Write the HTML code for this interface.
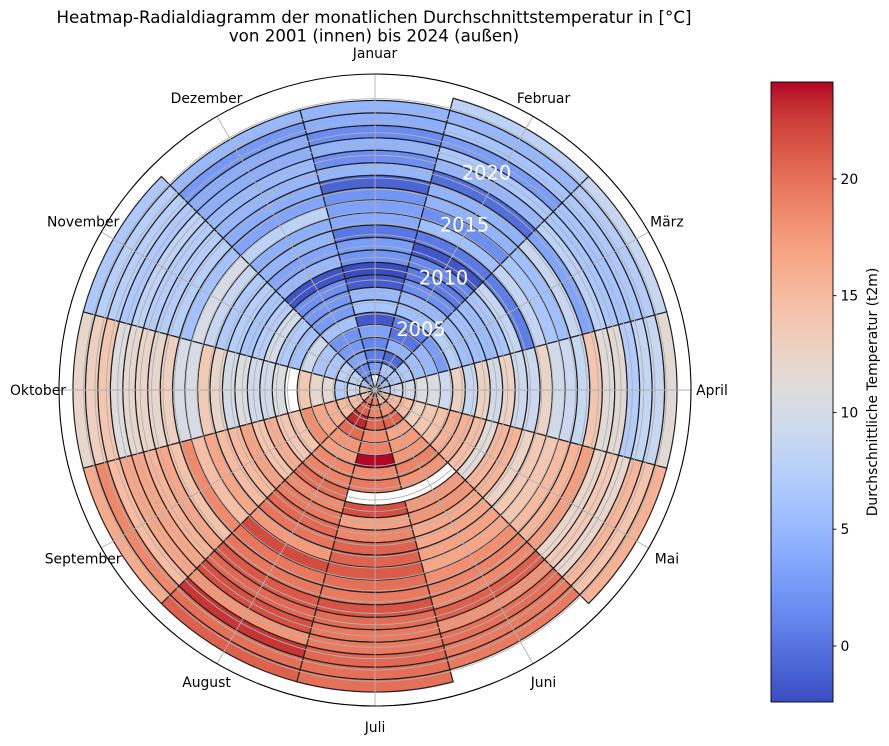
<!DOCTYPE html>
<html><head><meta charset="utf-8">
<style>
html,body{margin:0;padding:0;background:#fff;}
svg{display:block;font-family:"DejaVu Sans","Liberation Sans",sans-serif;}
</style></head><body>
<svg id="s" width="889" height="746" viewBox="0 0 889 746" xmlns="http://www.w3.org/2000/svg">
<defs>
<linearGradient id="cb" x1="0" y1="1" x2="0" y2="0">
<stop offset="0" stop-color="rgb(59,76,192)"/>
<stop offset="0.03125" stop-color="rgb(68,90,204)"/>
<stop offset="0.0625" stop-color="rgb(77,104,215)"/>
<stop offset="0.09375" stop-color="rgb(87,117,225)"/>
<stop offset="0.125" stop-color="rgb(98,130,234)"/>
<stop offset="0.15625" stop-color="rgb(108,142,241)"/>
<stop offset="0.1875" stop-color="rgb(119,154,247)"/>
<stop offset="0.21875" stop-color="rgb(130,165,251)"/>
<stop offset="0.25" stop-color="rgb(141,176,254)"/>
<stop offset="0.28125" stop-color="rgb(152,185,255)"/>
<stop offset="0.3125" stop-color="rgb(163,194,255)"/>
<stop offset="0.34375" stop-color="rgb(174,201,253)"/>
<stop offset="0.375" stop-color="rgb(184,208,249)"/>
<stop offset="0.40625" stop-color="rgb(194,213,244)"/>
<stop offset="0.4375" stop-color="rgb(204,217,238)"/>
<stop offset="0.46875" stop-color="rgb(213,219,230)"/>
<stop offset="0.5" stop-color="rgb(221,221,221)"/>
<stop offset="0.53125" stop-color="rgb(229,216,209)"/>
<stop offset="0.5625" stop-color="rgb(236,211,197)"/>
<stop offset="0.59375" stop-color="rgb(241,204,185)"/>
<stop offset="0.625" stop-color="rgb(245,196,173)"/>
<stop offset="0.65625" stop-color="rgb(247,187,160)"/>
<stop offset="0.6875" stop-color="rgb(247,177,148)"/>
<stop offset="0.71875" stop-color="rgb(247,166,135)"/>
<stop offset="0.75" stop-color="rgb(244,154,123)"/>
<stop offset="0.78125" stop-color="rgb(241,141,111)"/>
<stop offset="0.8125" stop-color="rgb(236,127,99)"/>
<stop offset="0.84375" stop-color="rgb(229,112,88)"/>
<stop offset="0.875" stop-color="rgb(222,96,77)"/>
<stop offset="0.90625" stop-color="rgb(213,80,66)"/>
<stop offset="0.9375" stop-color="rgb(203,62,56)"/>
<stop offset="0.96875" stop-color="rgb(192,40,47)"/>
<stop offset="1" stop-color="rgb(180,4,38)"/>
</linearGradient>
</defs>

<g id="cells"></g>
<g id="grid" stroke="#b0b0b0" stroke-width="0.9" fill="none"></g>
<circle cx="375" cy="390" r="316" fill="none" stroke="#000" stroke-width="1.1"/>

<!-- title -->
<text x="374" y="23" font-size="16.67" text-anchor="middle" fill="#000">Heatmap-Radialdiagramm der monatlichen Durchschnittstemperatur in [°C]</text>
<text x="374" y="41.5" font-size="16.67" text-anchor="middle" fill="#000">von 2001 (innen) bis 2024 (außen)</text>

<!-- month labels -->
<g font-size="13.9" text-anchor="middle" fill="#000">
<text x="375" y="53" dy="0.35em">Januar</text>
<text x="543.5" y="98.1" dy="0.35em">Februar</text>
<text x="666.9" y="221.5" dy="0.35em">März</text>
<text x="712" y="390" dy="0.35em">April</text>
<text x="666.9" y="558.5" dy="0.35em">Mai</text>
<text x="543.5" y="681.9" dy="0.35em">Juni</text>
<text x="375" y="727" dy="0.35em">Juli</text>
<text x="206.5" y="681.9" dy="0.35em">August</text>
<text x="83.1" y="558.5" dy="0.35em">September</text>
<text x="38" y="390" dy="0.35em">Oktober</text>
<text x="83.1" y="221.5" dy="0.35em">November</text>
<text x="206.5" y="98.1" dy="0.35em">Dezember</text>
</g>

<!-- radial year labels -->
<g font-size="19.4" text-anchor="middle" fill="#fff">
<text x="421" y="329" dy="0.35em">2005</text>
<text x="443.5" y="277.5" dy="0.35em">2010</text>
<text x="464.5" y="224.7" dy="0.35em">2015</text>
<text x="486.5" y="172.5" dy="0.35em">2020</text>
</g>

<!-- colorbar -->
<rect x="771" y="82" width="62" height="620" fill="url(#cb)" stroke="#000" stroke-width="0.9"/>
<g stroke="#000" stroke-width="0.9">
<line x1="833" y1="178.9" x2="836.5" y2="178.9"/>
<line x1="833" y1="295.7" x2="836.5" y2="295.7"/>
<line x1="833" y1="412.4" x2="836.5" y2="412.4"/>
<line x1="833" y1="529.2" x2="836.5" y2="529.2"/>
<line x1="833" y1="646" x2="836.5" y2="646"/>
</g>
<g font-size="13.9" fill="#000">
<text x="840.5" y="178.9" dy="0.35em">20</text>
<text x="840.5" y="295.7" dy="0.35em">15</text>
<text x="840.5" y="412.4" dy="0.35em">10</text>
<text x="840.5" y="529.2" dy="0.35em">5</text>
<text x="840.5" y="646" dy="0.35em">0</text>
</g>
<text x="872" y="392" font-size="13.9" text-anchor="middle" dy="0.35em" transform="rotate(-90 872 392)" fill="#000">Durchschnittliche Temperatur (t2m)</text>
</svg>

<script>
(function(){
var cx=375, cy=390;
var CW=[[59,76,192],[68,90,204],[77,104,215],[87,117,225],[98,130,234],[108,142,241],[119,154,247],[130,165,251],[141,176,254],[152,185,255],[163,194,255],[174,201,253],[184,208,249],[194,213,244],[204,217,238],[213,219,230],[221,221,221],[229,216,209],[236,211,197],[241,204,185],[245,196,173],[247,187,160],[247,177,148],[247,166,135],[244,154,123],[241,141,111],[236,127,99],[229,112,88],[222,96,77],[213,80,66],[203,62,56],[192,40,47],[180,4,38]];
function cw(f){
  f=Math.max(0,Math.min(1,f));
  var x=f*32, i=Math.min(31,Math.floor(x)), t=x-i, a=CW[i], b=CW[i+1];
  return "rgb("+Math.round(a[0]+(b[0]-a[0])*t)+","+Math.round(a[1]+(b[1]-a[1])*t)+","+Math.round(a[2]+(b[2]-a[2])*t)+")";
}
var D=[
[0.6,2.0,4.4,6.8,14.6,14.0,18.4,18.7,11.9,12.3,4.4,-0.2],
[1.4,5.3,5.4,8.4,13.9,17.0,17.9,19.3,13.2,7.7,6.0,0.0],
[-0.6,-2.0,5.6,8.9,13.7,19.6,19.4,21.0,13.5,5.7,6.0,1.8],
[0.0,3.2,4.3,9.7,11.8,15.6,17.2,18.8,14.5,10.0,4.5,1.1],
[1.9,-1.2,3.6,9.5,12.6,16.5,17.9,16.4,15.1,10.6,4.3,0.6],
[-2.9,-0.5,1.4,8.2,13.2,16.7,22.0,15.7,16.8,12.3,7.4,4.5],
[4.9,4.4,6.2,11.7,14.6,18.0,17.4,17.2,12.7,8.7,3.9,1.2],
[3.9,3.8,4.3,7.9,14.6,16.9,18.2,17.6,12.3,9.2,5.0,1.0],
[-2.6,0.6,4.4,11.8,13.6,14.8,18.0,18.6,14.6,8.1,7.9,0.4],
[-3.6,-0.8,4.0,8.7,10.0,16.6,20.5,17.1,12.6,8.0,5.2,-3.4],
[1.0,0.0,5.0,11.7,14.2,16.9,15.9,18.0,15.4,9.4,4.2,3.6],
[1.6,-3.1,7.2,8.3,14.5,15.4,17.6,18.9,13.6,8.4,5.3,1.9],
[-0.9,-0.9,-0.6,8.1,11.3,15.6,19.5,18.3,13.4,10.7,4.8,3.3],
[2.5,4.4,7.1,11.3,12.5,15.9,19.5,16.2,15.1,12.0,6.8,2.7],
[1.9,0.5,5.1,8.7,12.6,15.7,19.9,20.5,13.2,8.6,8.1,6.5],
[1.0,3.3,4.3,8.1,13.8,17.2,18.8,18.2,17.0,8.6,3.9,1.9],
[-2.2,3.2,7.5,7.7,14.3,17.9,18.3,18.2,12.9,11.4,5.5,2.5],
[3.6,-1.6,2.0,13.0,16.0,17.6,20.2,19.8,15.2,10.5,5.2,3.4],
[0.6,3.6,6.6,10.2,10.9,19.8,19.0,19.0,14.1,10.9,5.2,3.7],
[3.3,5.3,5.1,10.5,12.5,17.0,18.3,20.2,15.1,10.3,6.1,2.6],
[0.4,1.4,4.8,6.1,10.7,19.0,18.3,16.5,15.2,9.4,4.7,2.4],
[2.9,4.8,5.3,7.5,14.3,18.4,19.2,20.5,13.4,12.5,5.5,1.0],
[3.5,3.6,5.8,7.8,13.0,18.5,18.8,18.6,17.2,11.5,5.5,3.6],
[1.0,6.6,7.5,10.5,14.6,16.8,18.8,19.4,14.8,10.6,4.6,2.6]
];
var OFF=[1.2,1.3,1.3,1.0,1.2,1.0,1.2,1.4,1.5,1.5,2.0,1.5];
var OVR={"5-6":24.1,"2-7":23.3,"21-7":22.8};
var NAN={"0-0":1,"23-0":1,"23-5":1,"23-11":1,"6-9":1,"8-5":1,"8-6":1};
var r0=3, h=12.46;
function P(r,a){var t=a*Math.PI/180;return (cx+r*Math.sin(t)).toFixed(2)+","+(cy-r*Math.cos(t)).toFixed(2);}
var g=document.getElementById("cells"), html="";
for(var m=0;m<12;m++){
  var a0=m*30-15, a1=m*30+15;
  for(var y=0;y<24;y++){
    var key=y+"-"+m;
    if(NAN[key]) continue;
    var ri=r0+h*y, ro=ri+h;
    var t=(OVR[key]!==undefined)?OVR[key]:(D[y][m]+OFF[m]);
    var f=(t+2.4)/26.55;
    var d="M"+P(ro,a0)+"A"+ro+","+ro+" 0 0 1 "+P(ro,a1)+"L"+P(ri,a1)+"A"+ri+","+ri+" 0 0 0 "+P(ri,a0)+"Z";
    html+='<path d="'+d+'" fill="'+cw(f)+'" stroke="#222" stroke-width="1.2"/>';
  }
}
g.innerHTML=html;
var gg=document.getElementById("grid"), gh="";
for(var k=0;k<30;k++){
  var r=8.1+11.33*k;
  if(r>292) break;
  gh+='<circle cx="'+cx+'" cy="'+cy+'" r="'+r.toFixed(2)+'"/>';
}
for(var m2=0;m2<12;m2++){
  var p=P(316,m2*30).split(",");
  gh+='<line x1="'+cx+'" y1="'+cy+'" x2="'+p[0]+'" y2="'+p[1]+'"/>';
}
gg.innerHTML=gh;
})();
</script>
</body></html>
